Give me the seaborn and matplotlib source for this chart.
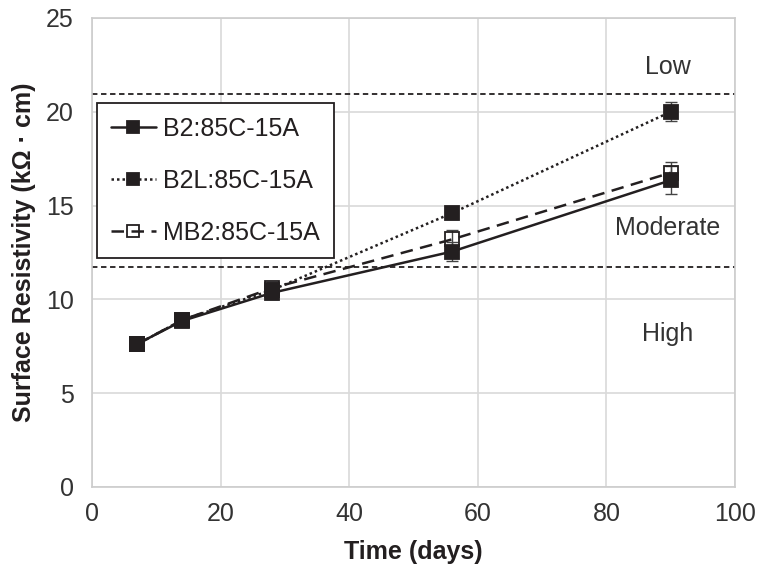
import numpy as np
import pandas as pd
import matplotlib
matplotlib.use("Agg")
import matplotlib.pyplot as plt
import seaborn as sns

days = [7, 14, 28, 56, 90]
series_names = ["B2:85C-15A", "B2L:85C-15A", "MB2:85C-15A"]
b2 = [7.62, 8.85, 10.35, 12.55, 16.35]
b2l = [7.6, 8.9, 10.5, 14.6, 20.0]
mb2 = [7.6, 8.9, 10.6, 13.2, 16.75]
b2_err = [0.25, 0.2, 0.35, 0.5, 0.75]
b2l_err = [0.2, 0.2, 0.3, 0.3, 0.5]
mb2_err = [0.2, 0.2, 0.35, 0.5, 0.55]
thresholds = [20.95, 11.72]
zone_labels = ["Low", "Moderate", "High"]
zone_y = [22.4, 13.8, 8.15]

sns.set_theme(style="whitegrid")
plt.rcParams['font.family'] = ['Liberation Sans', 'DejaVu Sans']

df = pd.DataFrame({
    "day": days * 3,
    "val": b2 + b2l + mb2,
    "err": b2_err + b2l_err + mb2_err,
    "series": sum([[n] * len(days) for n in series_names], []),
})

fig = plt.figure(figsize=(7.57, 5.71), dpi=100)
ax = fig.add_axes([92/757, 1-487/571, (735-92)/757, (487-18)/571])

styles = {
    "B2:85C-15A": dict(ls="-", mfc="#231f20", z=6),
    "B2L:85C-15A": dict(ls=(0, (1, 1.2)), mfc="#231f20", z=5),
    "MB2:85C-15A": dict(ls=(0, (5, 3)), mfc="none", z=4),
}
for name in series_names:
    sub = df[df.series == name]
    st = styles[name]
    ax.errorbar(sub.day, sub.val, yerr=sub.err, fmt="none", ecolor="#444444",
                elinewidth=1.0, capsize=4, capthick=1.0, zorder=3)
    sns.lineplot(data=sub, x="day", y="val", ax=ax, color="#231f20",
                 linestyle=st["ls"], linewidth=1.8, marker="s", markersize=10,
                 markerfacecolor=st["mfc"], markeredgecolor="#231f20",
                 markeredgewidth=1.3, label=name, zorder=st["z"], errorbar=None)

for t in thresholds:
    ax.axhline(t, color="#231f20", ls=(0, (3, 2)), lw=1.3, zorder=2)
for lab, yy in zip(zone_labels, zone_y):
    ax.text(89.5, yy, lab, ha="center", va="center", fontsize=18, color="#333333")

ax.set_xlim(0, 100)
ax.set_ylim(0, 25)
ax.set_xticks(np.arange(0, 101, 20))
ax.set_yticks(np.arange(0, 26, 5))
ax.grid(True, color="#d9d9d9", lw=1.2)
for s in ax.spines.values():
    s.set_color("#cccccc")
    s.set_linewidth(1.2)
ax.tick_params(axis="both", length=0, labelsize=18, labelcolor="#333333")
ax.tick_params(axis="x", pad=11)
ax.tick_params(axis="y", pad=13)
ax.set_xlabel("Time (days)", fontsize=18, fontweight="bold", color="#231f20", labelpad=10)
ax.set_ylabel("Surface Resistivity (k\u03a9 \u00b7 cm)", fontsize=18, fontweight="bold",
              color="#231f20", labelpad=7)

leg = ax.legend(loc="upper left", bbox_to_anchor=(0.008, 0.819), borderaxespad=0,
                fontsize=18, frameon=True, fancybox=False, edgecolor="#231f20",
                framealpha=1, handlelength=1.8, handletextpad=0.3,
                labelspacing=1.12, borderpad=0.55, markerscale=0.8)
leg.get_frame().set_linewidth(1.3)
for t in leg.get_texts():
    t.set_color("#231f20")

fig.savefig("out.png", dpi=100)
